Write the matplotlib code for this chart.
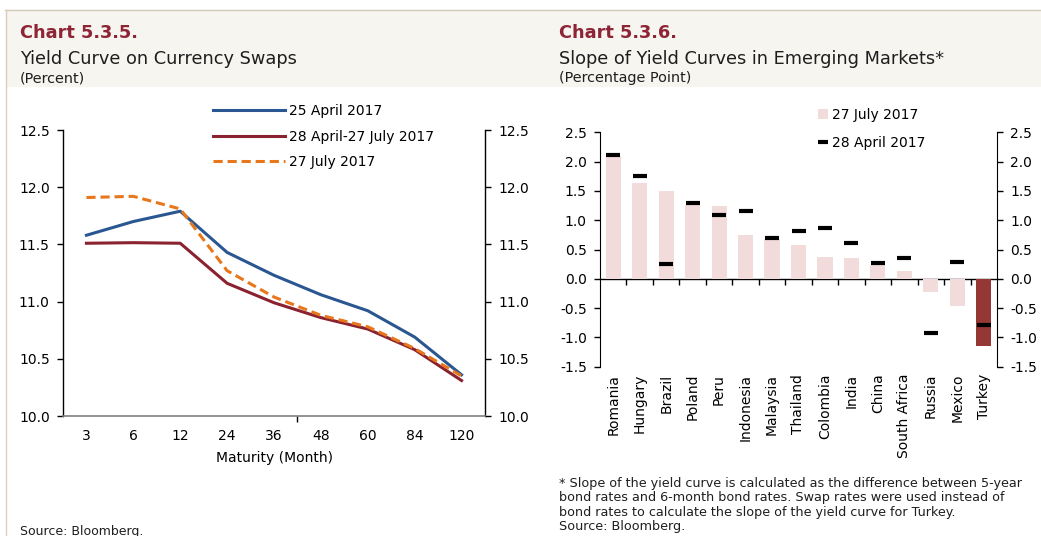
import matplotlib
matplotlib.use("Agg")
import matplotlib.pyplot as plt
from matplotlib.patches import Rectangle
from matplotlib.lines import Line2D

# ---------------- data ----------------
maturities = ["3", "6", "12", "24", "36", "48", "60", "84", "120"]
apr25 = [11.58, 11.70, 11.79, 11.43, 11.23, 11.06, 10.92, 10.69, 10.36]
apr28_jul27 = [11.51, 11.515, 11.51, 11.16, 10.99, 10.86, 10.76, 10.58, 10.31]
jul27 = [11.91, 11.92, 11.81, 11.27, 11.04, 10.88, 10.78, 10.59, 10.35]
left_labels = ["25 April 2017", "28 April-27 July 2017", "27 July 2017"]
left_yticks = [10.0, 10.5, 11.0, 11.5, 12.0, 12.5]

countries = ["Romania", "Hungary", "Brazil", "Poland", "Peru", "Indonesia",
             "Malaysia", "Thailand", "Colombia", "India", "China",
             "South Africa", "Russia", "Mexico", "Turkey"]
slope_jul27 = [2.10, 1.63, 1.50, 1.26, 1.24, 0.74, 0.68, 0.585, 0.37, 0.35,
               0.24, 0.13, -0.22, -0.46, -1.15]
slope_apr28 = [2.12, 1.76, 0.26, 1.30, 1.085, 1.16, 0.69, 0.82, 0.86, 0.61,
               0.27, 0.36, -0.93, 0.295, -0.79]
right_labels = ["27 July 2017", "28 April 2017"]
right_yticks = [-1.5, -1.0, -0.5, 0.0, 0.5, 1.0, 1.5, 2.0, 2.5]

# ---------------- style ----------------
W, H = 1041, 536
fig = plt.figure(figsize=(W / 100, H / 100), dpi=100)
fig.patch.set_facecolor("white")

TFONT = "DejaVu Sans"
AFONT = "DejaVu Sans"
title_col = "#8e2536"
blue = "#2a5791"
red = "#8b2230"
orange = "#e8771c"
pink = "#f2dcdb"
dark = "#953735"
txt = "#1e1e1e"

def fx(px):
    return px / W

def fy(py):
    return 1 - py / H

# header band and frame lines
fig.add_artist(Rectangle((fx(6), fy(87)), 1 - fx(6), fy(10) - fy(87),
                         transform=fig.transFigure, facecolor="#f7f5f0",
                         edgecolor="none", zorder=0))
fig.add_artist(Line2D([fx(5), 1], [fy(9.5), fy(9.5)], transform=fig.transFigure,
                      color="#d2c9b6", lw=1.0))
fig.add_artist(Line2D([fx(5.5), fx(5.5)], [fy(9.5), 0], transform=fig.transFigure,
                      color="#d8cfbf", lw=1.0))

# titles
for x0, t1, t2, t3 in [(20, "Chart 5.3.5.", "Yield Curve on Currency Swaps", "(Percent)"),
                       (559, "Chart 5.3.6.", "Slope of Yield Curves in Emerging Markets*",
                        "(Percentage Point)")]:
    fig.text(fx(x0), fy(38), t1, fontsize=12.8, fontweight="bold", color=title_col,
             family=TFONT, va="baseline", ha="left")
    fig.text(fx(x0), fy(64), t2, fontsize=12.8, color=txt, family=TFONT,
             va="baseline", ha="left")
    fig.text(fx(x0), fy(82), t3, fontsize=10.4, color=txt, family=TFONT,
             va="baseline", ha="left")

fig.text(fx(20), fy(531), "Source: Bloomberg.", fontsize=9, family=TFONT,
         color=txt, va="center", ha="left")
fig.text(fx(559), fy(477),
         "* Slope of the yield curve is calculated as the difference between 5-year\n"
         "bond rates and 6-month bond rates. Swap rates were used instead of\n"
         "bond rates to calculate the slope of the yield curve for Turkey.\n"
         "Source: Bloomberg.",
         fontsize=9.2, family=TFONT, color=txt, va="top", ha="left",
         linespacing=1.13)

# ---------------- left chart ----------------
ax1 = fig.add_axes([fx(63), fy(416), fx(485) - fx(63), fy(130) - fy(416)])
x = list(range(len(maturities)))
ax1.plot(x, apr25, color=blue, lw=2.2, label=left_labels[0])
ax1.plot(x, apr28_jul27, color=red, lw=2.2, label=left_labels[1])
ax1.plot(x, jul27, color=orange, lw=2.2, dashes=(3, 1.6), label=left_labels[2])
ax1.set_xlim(-0.5, len(maturities) - 0.5)
ax1.set_ylim(10.0, 12.5)
ax1.set_yticks(left_yticks)
ax1.set_yticklabels([f"{v:.1f}" for v in left_yticks])
ax1.set_xticks(x)
ax1.set_xticklabels(maturities)
ax1.set_xticks([4.5], minor=True)
ax1.tick_params(axis="x", which="major", length=0, pad=9, labelsize=10)
ax1.tick_params(axis="x", which="minor", length=4, width=1, color="black",
                direction="out")
ax1.tick_params(axis="y", which="major", length=4, width=1, direction="out",
                labelsize=10, pad=5.5, left=True, right=True,
                labelleft=True, labelright=True)
ax1.spines["top"].set_visible(False)
ax1.spines["bottom"].set_color("#7f7f7f")
ax1.spines["bottom"].set_linewidth(1.2)
for s in ("left", "right"):
    ax1.spines[s].set_linewidth(1.0)
for lbl in ax1.get_yticklabels() + ax1.get_xticklabels():
    lbl.set_family(AFONT)
ax1.set_xlabel("Maturity (Month)", fontsize=10, family=AFONT, labelpad=6)
ax1.patch.set_alpha(0)
leg1 = ax1.legend(loc="upper left", bbox_to_anchor=(fx(213), fy(104)),
                  bbox_transform=fig.transFigure, frameon=False,
                  prop={"family": AFONT, "size": 10}, handlelength=5.2,
                  handletextpad=0.3, labelspacing=0.83, borderpad=0,
                  borderaxespad=0)

# ---------------- right chart ----------------
ax2 = fig.add_axes([fx(600), fy(366.7), fx(997) - fx(600), fy(132.3) - fy(366.7)])
xc = list(range(len(countries)))
bar_colors = [dark if c == "Turkey" else pink for c in countries]
bars = ax2.bar(xc, slope_jul27, width=0.57, color=bar_colors,
               label=right_labels[0], zorder=2)
marks, = ax2.plot(xc, slope_apr28, ls="none", marker="_", markersize=9.5,
                  markeredgewidth=3.0, color="black", label=right_labels[1],
                  zorder=4)
ymin, ymax = -1.5, 2.5
ax2.set_ylim(ymin, ymax)
ax2.set_xlim(-0.5, len(countries) - 0.5)
ax2.set_yticks(right_yticks)
ax2.set_yticklabels([f"{v:.1f}" for v in right_yticks])
ax2.set_xticks(xc)
ax2.set_xticklabels(countries, rotation=90)
ax2.tick_params(axis="x", length=0, pad=5, labelsize=10)
ax2.tick_params(axis="y", length=4, width=1, direction="out", labelsize=10,
                pad=5.5, left=True, right=True, labelleft=True, labelright=True)
for s in ("top", "bottom"):
    ax2.spines[s].set_visible(False)
for lbl in ax2.get_yticklabels() + ax2.get_xticklabels():
    lbl.set_family(AFONT)
zero_loc = (0 - ymin) / (ymax - ymin)
sec = ax2.secondary_xaxis(zero_loc)
sec.set_xticks([i + 0.5 for i in xc[:-1]])
sec.set_xticklabels([])
sec.tick_params(axis="x", length=4, width=1, direction="out")
sec.spines["bottom"].set_linewidth(1.0)
ax2.patch.set_alpha(0)
leg2 = ax2.legend(handles=[bars, marks], labels=right_labels,
                  loc="upper left", bbox_to_anchor=(fx(818), fy(108)),
                  bbox_transform=fig.transFigure, frameon=False,
                  prop={"family": AFONT, "size": 10}, handlelength=0.75,
                  handletextpad=0.25, labelspacing=0.98, borderpad=0,
                  borderaxespad=0)
for h in leg2.legend_handles:
    if isinstance(h, Line2D):
        h.set_markersize(6.5)
        h.set_markeredgewidth(3.0)
    else:
        h.set_facecolor(pink)

fig.savefig("out.png", dpi=100, facecolor="white")
